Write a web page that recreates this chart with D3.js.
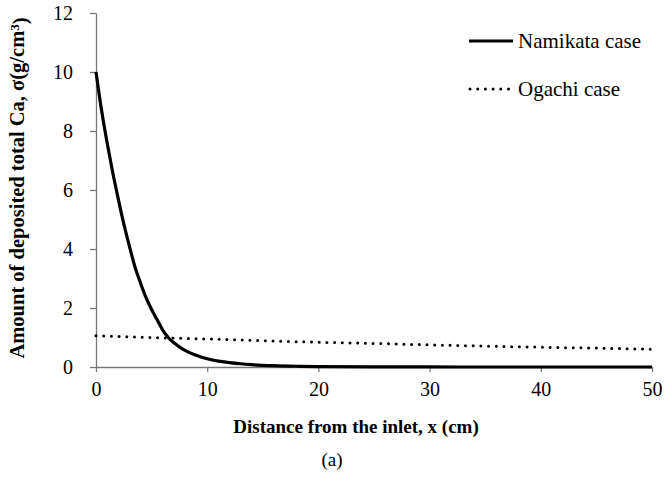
<!DOCTYPE html>
<html><head><meta charset="utf-8">
<script src="https://cdn.jsdelivr.net/npm/d3@7"></script>
<style>body{margin:0;background:#fff;} svg{display:block;font-family:"Liberation Serif","Times New Roman",serif;} svg text{font-family:"Liberation Serif","Times New Roman",serif;}</style>
</head><body>
<svg id="c" width="667" height="478"></svg>
<script>
const xTicks = [0, 10, 20, 30, 40, 50];
const yTicks = [0, 2, 4, 6, 8, 10, 12];
const seriesNames = ["Namikata case", "Ogachi case"];
const namikataX = [0,0.5,1,1.5,2,2.5,3,3.5,4,4.5,5,5.5,6,6.5,7,7.5,8,9,10,11,12,13,14,16,18,20,25,30,35,40,45,50];
const namikataY = [10.0,8.7,7.6,6.6,5.7,4.85,4.1,3.4,2.85,2.35,1.95,1.6,1.25,1.0,0.82,0.68,0.56,0.4,0.28,0.2,0.15,0.11,0.08,0.045,0.025,0.013,0.004,0.001,0,0,0,0];
const ogachiX = [0,5,10,15,20,25,30,35,40,45,50];
const ogachiY = [1.06,1.00,0.95,0.89,0.84,0.80,0.75,0.71,0.67,0.64,0.60];
const xLabel = "Distance from the inlet, x (cm)";
const caption = "(a)";

const svg = d3.select("#c");
const font = "Liberation Serif";
const x = d3.scaleLinear().domain([0, 50]).range([96, 652]);
const y = d3.scaleLinear().domain([0, 12]).range([367, 13]);
const axisColor = "#777";

// axes
const gx = svg.append("g").attr("transform", `translate(0,${y(0)})`)
  .call(d3.axisBottom(x).tickValues(xTicks).tickSize(5).tickSizeOuter(0).tickPadding(6));
const gy = svg.append("g").attr("transform", `translate(${x(0)},0)`)
  .call(d3.axisLeft(y).tickValues(yTicks).tickSize(6).tickSizeOuter(0).tickPadding(17));
[gx, gy].forEach(g => {
  g.attr("font-family", font).attr("font-size", 20);
  g.select(".domain").attr("stroke", axisColor).attr("stroke-width", 1.3);
  g.selectAll(".tick line").attr("stroke", axisColor).attr("stroke-width", 1.3);
  g.selectAll(".tick text").attr("fill", "#000").attr("font-family", font).attr("font-size", 20);
});
gx.selectAll(".tick text").attr("dy", "0.92em");
gy.selectAll(".tick text").attr("dy", "0.34em");

const line = d3.line().x(d => x(d[0])).y(d => y(d[1])).curve(d3.curveMonotoneX);
const nam = namikataX.map((v, i) => [v, namikataY[i]]);
const oga = ogachiX.map((v, i) => [v, ogachiY[i]]);

svg.append("path").datum(oga).attr("d", line).attr("fill", "none")
  .attr("stroke", "#000").attr("stroke-width", 3).attr("stroke-linecap", "round")
  .attr("stroke-dasharray", "0 7.7");
svg.append("path").datum(nam).attr("d", line).attr("fill", "none")
  .attr("stroke", "#000").attr("stroke-width", 3.2);

// legend
const lg = svg.append("g").attr("font-family", font).attr("font-size", 21);
lg.append("line").attr("x1", 469).attr("x2", 513).attr("y1", 41).attr("y2", 41)
  .attr("stroke", "#000").attr("stroke-width", 3.2);
lg.append("text").attr("x", 518).attr("y", 48).text(seriesNames[0]);
lg.append("line").attr("x1", 470).attr("x2", 510).attr("y1", 89).attr("y2", 89)
  .attr("stroke", "#000").attr("stroke-width", 3).attr("stroke-linecap", "round")
  .attr("stroke-dasharray", "0 7.7");
lg.append("text").attr("x", 518).attr("y", 96).text(seriesNames[1]);

// titles
svg.append("text").attr("x", 356).attr("y", 433).attr("text-anchor", "middle")
  .attr("font-family", font).attr("font-size", 19).attr("font-weight", "bold")
  .text(xLabel);
const yt = svg.append("text").attr("transform", "translate(24,188) rotate(-90)")
  .attr("text-anchor", "middle")
  .attr("font-family", font).attr("font-size", 20.5).attr("font-weight", "bold");
yt.append("tspan").text("Amount of deposited total Ca,  σ(g/cm");
yt.append("tspan").attr("dy", "-0.4em").attr("font-size", 13).text("3");
yt.append("tspan").attr("dy", "0.4em").text(")");

svg.append("text").attr("x", 332).attr("y", 466).attr("text-anchor", "middle")
  .attr("font-family", font).attr("font-size", 19).text(caption);
</script>
</body></html>
